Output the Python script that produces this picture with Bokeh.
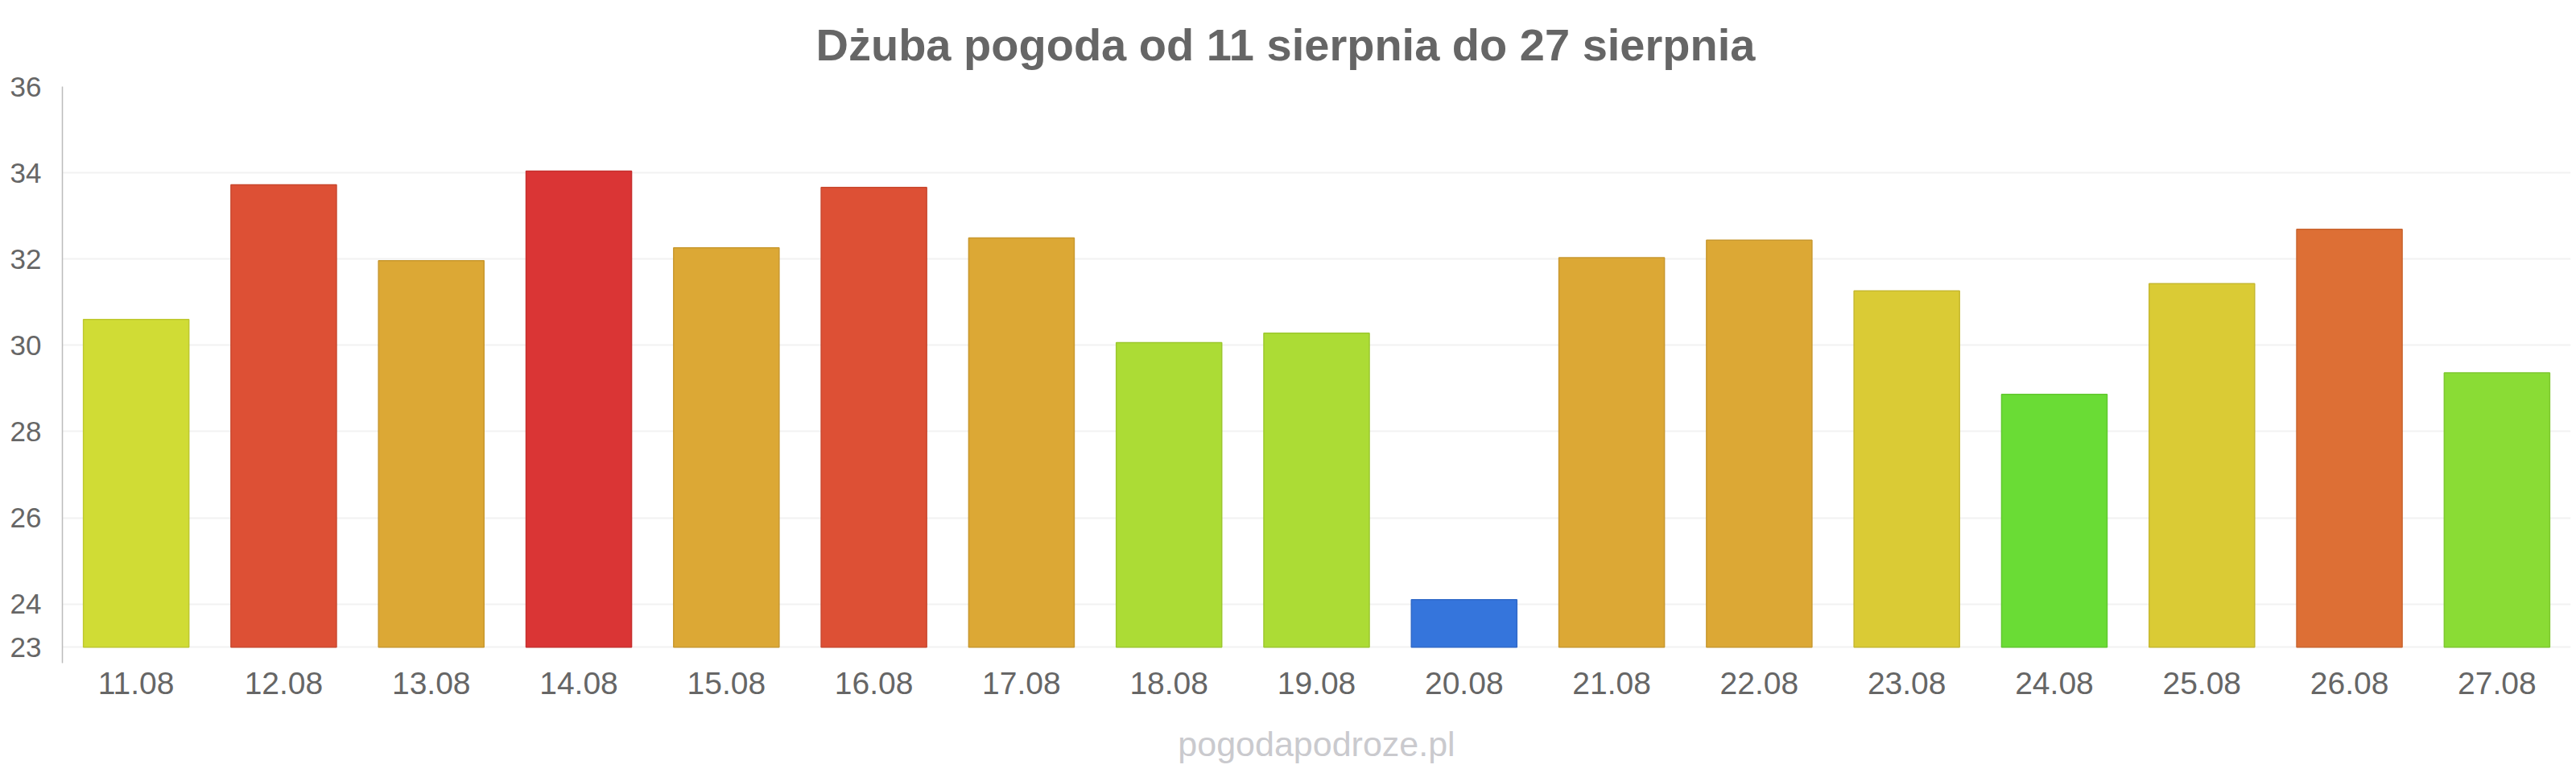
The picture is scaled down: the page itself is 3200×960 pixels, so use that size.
from bokeh.plotting import figure
from bokeh.models import Range1d, FactorRange, FixedTicker, Title
from bokeh.embed import file_html
from bokeh.resources import INLINE

# ---- data ----
dates = ["11.08", "12.08", "13.08", "14.08", "15.08", "16.08", "17.08", "18.08", "19.08",
         "20.08", "21.08", "22.08", "23.08", "24.08", "25.08", "26.08", "27.08"]
temps = [30.6, 33.72, 31.96, 34.04, 32.26, 33.66, 32.49, 30.06, 30.28,
         24.1, 32.03, 32.44, 31.26, 28.86, 31.43, 32.69, 29.36]
bar_colors = ["#d0dc35", "#dd5035", "#dca835", "#da3535", "#dca835", "#dd5035", "#dca835",
              "#acdc35", "#acdc35", "#3575dc", "#dca835", "#dca835", "#dacb35", "#6adc35",
              "#dacb35", "#dd6f35", "#8adc35"]
border_colors = ["#bec82f", "#c9482f", "#c8982f", "#c6302f", "#c8982f", "#c9482f", "#c8982f",
                 "#9cc82f", "#9cc82f", "#3069c8", "#c8982f", "#c8982f", "#c6b82f", "#60c82f",
                 "#c6b82f", "#c9642f", "#7ec82f"]
y_ticks = [23, 24, 26, 28, 30, 32, 34, 36]
title_text = "Dżuba pogoda od 11 sierpnia do 27 sierpnia"
watermark = "pogodapodroze.pl"

FONT = "Liberation Sans"
GREY = "#666666"

p = figure(width=3200, height=960,
           x_range=FactorRange(factors=dates),
           y_range=Range1d(22.63, 36),
           output_backend="svg", toolbar_location=None,
           min_border_left=77, min_border_right=7,
           min_border_top=106, min_border_bottom=137)

p.outline_line_color = None
p.background_fill_color = "white"
p.border_fill_color = "white"

p.vbar(x=dates, top=temps, bottom=23, width=0.715,
       fill_color=bar_colors, line_color=border_colors, line_width=1.5)

# x axis (watermark shown as the axis label, centred under the plot area)
xa = p.xaxis[0]
xa.axis_line_color = None
xa.major_tick_line_color = None
xa.minor_tick_line_color = None
xa.major_label_text_font = FONT
xa.major_label_text_font_size = "39px"
xa.major_label_text_color = GREY
xa.major_label_standoff = 5
xa.axis_label = watermark
xa.axis_label_text_font = FONT
xa.axis_label_text_font_size = "43px"
xa.axis_label_text_font_style = "normal"
xa.axis_label_text_color = "#cacace"
xa.axis_label_standoff = 35
p.xgrid.grid_line_color = None

# y axis
ya = p.yaxis[0]
ya.ticker = FixedTicker(ticks=y_ticks)
ya.axis_line_color = "#bbbbbb"
ya.axis_line_width = 1.5
ya.major_tick_line_color = None
ya.minor_tick_line_color = None
ya.major_label_text_font = FONT
ya.major_label_text_font_size = "35px"
ya.major_label_text_color = GREY
ya.major_label_standoff = 20
p.ygrid.ticker = FixedTicker(ticks=y_ticks)
p.ygrid.grid_line_color = "#f2f2f2"
p.ygrid.grid_line_width = 2

# title
p.add_layout(Title(text=title_text, align="left", offset=936,
                   text_font=FONT, text_font_size="56px", text_font_style="bold",
                   text_color=GREY, standoff=42), "above")

open("out.html", "w").write(file_html(p, INLINE))
